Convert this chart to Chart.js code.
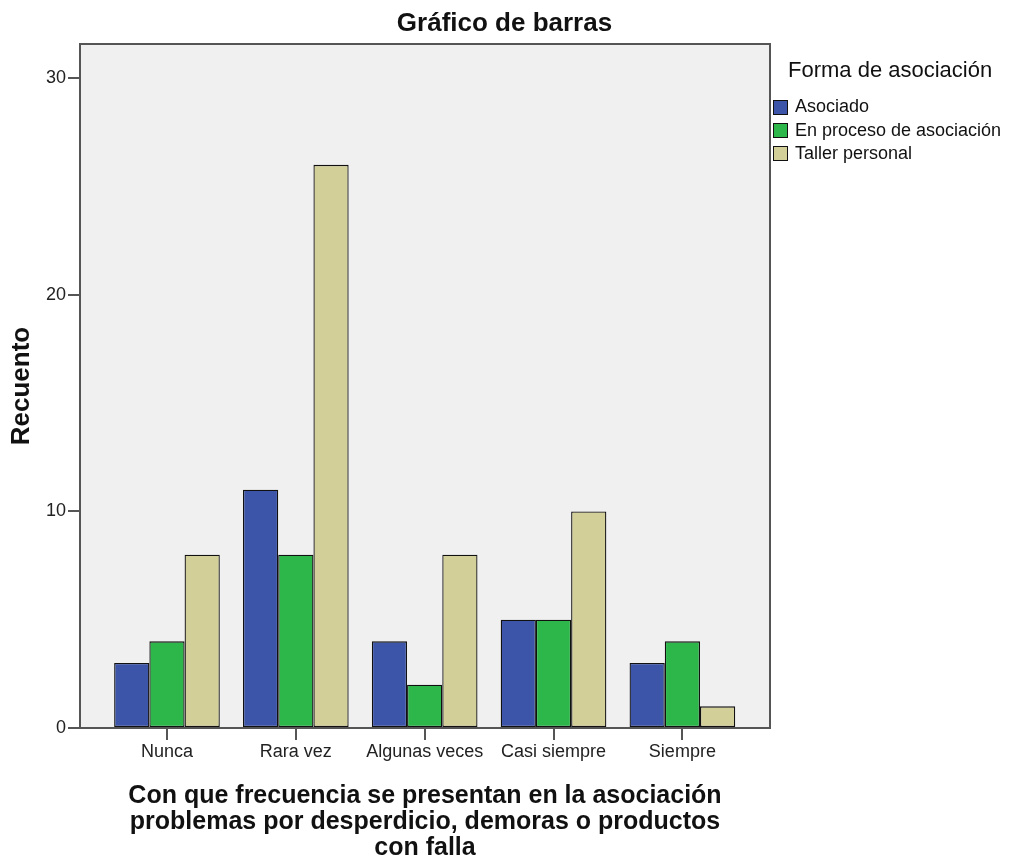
<!DOCTYPE html>
<html>
<head>
<meta charset="utf-8">
<script src="https://cdn.jsdelivr.net/npm/chart.js@4/dist/chart.umd.min.js"></script>
<style>
  html, body { margin: 0; padding: 0; background: #fff; }
  #wrap { position: relative; width: 1009px; height: 862px; }
  #legend { position: absolute; left: 773px; top: 58.7px; font-family: "Liberation Sans", Arial, sans-serif; color: #111; }
  #legend .ttl { font-size: 22px; line-height: 22px; margin-left: 15px; height: 36.7px; }
  #legend .row { display: flex; align-items: center; height: 23.4px; font-size: 18px; line-height: 23.4px; white-space: nowrap; }
  #legend .box { width: 15px; height: 15px; border: 1px solid #111; box-sizing: border-box; margin-right: 7px; }
</style>
</head>
<body>
<div id="wrap">
  <canvas id="c" width="1009" height="862"></canvas>
  <div id="legend"></div>
</div>
<script>
const categories = ["Nunca", "Rara vez", "Algunas veces", "Casi siempre", "Siempre"];
const seriesNames = ["Asociado", "En proceso de asociación", "Taller personal"];
const asociado = [3, 11, 4, 5, 3];
const enProceso = [4, 8, 2, 5, 4];
const tallerPersonal = [8, 26, 8, 10, 1];
const yTicks = [0, 10, 20, 30];
const colors = ["#3d55a9", "#2db74b", "#d3cf98"];
const legendTitle = "Forma de asociación";
const chartTitle = "Gráfico de barras";
const yTitle = "Recuento";
const xTitle = ["Con que frecuencia se presentan en la asociación", "problemas por desperdicio, demoras o productos", "con falla"];

const seriesValues = [asociado, enProceso, tallerPersonal];
const FONT = "'Liberation Sans', Arial, sans-serif";

const framePlugin = {
  id: 'frame',
  beforeDraw(chart) {
    const a = chart.chartArea, ctx = chart.ctx;
    ctx.save();
    ctx.fillStyle = '#f0f0f0';
    ctx.fillRect(a.left, a.top, a.right - a.left, a.bottom - a.top);
    ctx.restore();
  },
  afterDatasetsDraw(chart) {
    const a = chart.chartArea, ctx = chart.ctx;
    ctx.save();
    ctx.strokeStyle = '#555';
    ctx.lineWidth = 2;
    ctx.strokeRect(a.left, a.top, a.right - a.left, a.bottom - a.top);
    ctx.restore();
  }
};

new Chart(document.getElementById('c'), {
  type: 'bar',
  data: {
    datasets: seriesValues.map((vals, k) => ({
      label: seriesNames[k],
      data: vals.map((v, i) => ({ x: i, y: v })),
      backgroundColor: colors[k],
      borderColor: '#111',
      borderWidth: 1.3,
      borderSkipped: false,
      categoryPercentage: 0.82,
      barPercentage: 1.0
    }))
  },
  options: {
    responsive: false,
    animation: false,
    layout: { padding: 0 },
    plugins: {
      legend: { display: false },
      tooltip: { enabled: false },
      title: {
        display: true,
        text: chartTitle,
        color: '#111',
        font: { family: FONT, size: 26, weight: 'bold', lineHeight: 1.2 },
        padding: { top: 7.9, bottom: 4.9 }
      }
    },
    scales: {
      x: {
        type: 'linear',
        min: -0.675,
        max: 4.68,
        offset: false,
        afterBuildTicks(s) { s.ticks = categories.map((_, i) => ({ value: i })); },
        afterFit(s) { s.height = 134; },
        grid: { display: true, offset: false, drawOnChartArea: false, drawTicks: true, tickLength: 12, color: '#555', lineWidth: 2 },
        border: { display: false },
        ticks: {
          padding: 1,
          maxRotation: 0,
          autoSkip: false,
          color: '#222',
          font: { family: FONT, size: 18 },
          callback: (v) => (Number.isInteger(v) && categories[v] !== undefined) ? categories[v] : ''
        },
        title: {
          display: true,
          text: xTitle,
          color: '#111',
          font: { family: FONT, size: 25, weight: 'bold', lineHeight: 1.04 },
          padding: { top: 0, bottom: 1.3 }
        }
      },
      y: {
        min: 0,
        max: 31.58,
        afterBuildTicks(s) { s.ticks = yTicks.map(v => ({ value: v })); },
        afterFit(s) { s.width = 80; },
        grid: { display: true, drawOnChartArea: false, drawTicks: true, tickLength: 12, color: '#555', lineWidth: 2 },
        border: { display: false },
        ticks: { padding: 2, color: '#222', font: { family: FONT, size: 18 } },
        title: {
          display: true,
          text: yTitle,
          color: '#111',
          font: { family: FONT, size: 26, weight: 'bold', lineHeight: 1.2 },
          padding: { top: 6.1, bottom: 0 }
        }
      },
      yR: {
        type: 'linear',
        position: 'right',
        display: true,
        afterFit(s) { s.width = 239; },
        grid: { display: false, drawTicks: false },
        border: { display: false },
        ticks: { display: false },
        title: { display: false }
      }
    }
  },
  plugins: [framePlugin]
});

const lg = document.getElementById('legend');
const t = document.createElement('div');
t.className = 'ttl';
t.textContent = legendTitle;
lg.appendChild(t);
seriesNames.forEach((n, k) => {
  const r = document.createElement('div');
  r.className = 'row';
  const b = document.createElement('span');
  b.className = 'box';
  b.style.background = colors[k];
  const s = document.createElement('span');
  s.textContent = n;
  r.appendChild(b); r.appendChild(s);
  lg.appendChild(r);
});
</script>
</body>
</html>
